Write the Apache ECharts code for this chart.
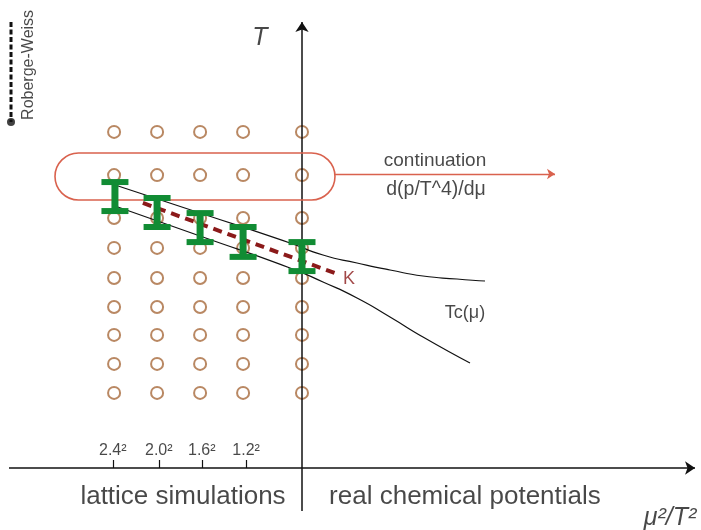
<!DOCTYPE html>
<html><head><meta charset="utf-8">
<script src="https://cdn.jsdelivr.net/npm/echarts@6/dist/echarts.min.js"></script>
<style>html,body{margin:0;padding:0;background:#fff}#c{width:701px;height:530px}</style>
</head><body><div id="c"></div>
<script>
// Schematic coordinates: x = mu^2/T^2 (arbitrary units), y = T (arbitrary units)
const gridColumns = [-4.37, -3.37, -2.37, -1.37, 0];
const gridRows = [2.59, 3.59, 4.59, 5.55, 6.55, 7.59, 8.62, 10.1, 11.59];
const tickValues = [-4.4, -3.33, -2.33, -1.3];
const tickLabels = ['2.4²', '2.0²', '1.6²', '1.2²'];
const tickLabelLevel = 0.6;
// error bars: [x, low, high]
const errorBars = [[-4.35, 8.86, 9.86], [-3.37, 8.31, 9.31], [-2.37, 7.79, 8.79], [-1.37, 7.28, 8.31], [0, 6.79, 7.79]];
const upperCurve = [[-4.628, 9.897], [-2.372, 8.793], [-0.279, 7.759], [0.488, 7.345], [1.279, 7.069], [2.047, 6.828], [2.814, 6.621], [3.605, 6.517], [4.256, 6.448]];
const tcCurve = [[-4.349, 9.034], [-2.372, 8.0], [-0.279, 6.897], [0.488, 6.414], [1.279, 5.862], [2.047, 5.207], [2.814, 4.517], [3.907, 3.621]];
const kLine = [[-3.70, 9.14], [0.88, 6.66]];
const continuationBox = [[-5.744, 10.862, 0.767, 9.241]];
const continuationArrow = [[0.767, 10.138], [5.884, 10.138]];
const robergeWeiss = [[-6.767, 15.38], [-6.767, 11.93]];
const xAxisLine = [[-6.814, 0], [9.14, 0]];
const yAxisLine = [[0, -1.483], [0, 15.38]];
const annotations = [
  {name: 'T', value: [-0.977, 14.83]},
  {name: 'μ²/T²', value: [8.56, -1.72]},
  {name: 'lattice simulations', value: [-2.767, -1.0]},
  {name: 'real chemical potentials', value: [3.79, -1.0]},
  {name: 'continuation', value: [3.093, 10.586]},
  {name: 'd(p/T^4)/dμ', value: [3.116, 9.586]},
  {name: 'Tc(μ)', value: [3.79, 5.345]},
  {name: 'K', value: [1.093, 6.52]},
  {name: 'Roberge-Weiss', value: [-6.35, 13.9]}
];

const FONT = 'Liberation Sans, Arial, sans-serif';
const INK = '#1a1a1a';
const textStyles = {
  'T': {fontSize: 25, fontStyle: 'italic', color: INK},
  'μ²/T²': {fontSize: 25, fontStyle: 'italic', color: INK},
  'lattice simulations': {fontSize: 26, color: INK},
  'real chemical potentials': {fontSize: 26, color: INK},
  'continuation': {fontSize: 19, color: INK},
  'd(p/T^4)/dμ': {fontSize: 19.5, color: INK},
  'Tc(μ)': {fontSize: 18, color: INK},
  'K': {fontSize: 18, color: '#8b1a1a'},
  'Roberge-Weiss': {fontSize: 16, color: INK, rotate: 90}
};

const circles = [];
gridColumns.forEach(x => gridRows.forEach(y => circles.push([x, y])));

const chart = echarts.init(document.getElementById('c'), null, {renderer: 'canvas'});
const option = {
  animation: false,
  backgroundColor: '#fff',
  grid: {left: 0, right: 0, top: 0, bottom: 0, outerBoundsMode: 'none', containLabel: false},
  xAxis: {
    type: 'value', min: -7.023, max: 9.279, position: 'bottom',
    splitLine: {show: false},
    axisLine: {show: false, onZero: true},
    axisTick: {show: true, inside: true, length: 8, customValues: tickValues, lineStyle: {color: '#111', width: 1.2}},
    axisLabel: {show: false}
  },
  yAxis: {
    type: 'value', min: -2.138, max: 16.138,
    show: true, splitLine: {show: false}, axisLine: {show: false}, axisTick: {show: false}, axisLabel: {show: false}
  },
  series: [
    {type: 'scatter', data: circles, symbol: 'circle', symbolSize: 12, z: 2,
     itemStyle: {color: 'rgba(255,255,255,0)', borderColor: '#a86a3c', borderWidth: 2}},
    {type: 'lines', coordinateSystem: 'cartesian2d', z: 3, symbol: ['none', 'arrow'], symbolSize: 10,
     lineStyle: {color: '#111', width: 1.5, opacity: 1},
     data: [{coords: xAxisLine}, {coords: yAxisLine}]},
    {type: 'line', data: upperCurve, smooth: 0.6, showSymbol: false, z: 4,
     lineStyle: {color: '#111', width: 1.2}},
    {type: 'line', data: tcCurve, smooth: 0.6, showSymbol: false, z: 4,
     lineStyle: {color: '#111', width: 1.2}},
    {type: 'line', data: kLine, showSymbol: false, z: 5,
     lineStyle: {color: '#8b1a1a', width: 4, type: [9, 6]}},
    {type: 'line', data: robergeWeiss, showSymbol: false, z: 5,
     lineStyle: {color: '#111', width: 3, type: [5, 2.5]}},
    {type: 'scatter', data: [robergeWeiss[1]], symbol: 'circle', symbolSize: 8, z: 5,
     itemStyle: {color: '#111'}},
    {type: 'custom', data: continuationBox, z: 6, encode: {x: [0, 2], y: [1, 3]},
     renderItem: (params, api) => {
       const p1 = api.coord([api.value(0), api.value(1)]);
       const p2 = api.coord([api.value(2), api.value(3)]);
       const h = p2[1] - p1[1];
       return {type: 'rect', shape: {x: p1[0], y: p1[1], width: p2[0] - p1[0], height: h, r: h / 2},
               style: {fill: 'none', stroke: '#d9624e', lineWidth: 1.6}};
     }},
    {type: 'lines', coordinateSystem: 'cartesian2d', z: 6, symbol: ['none', 'arrow'], symbolSize: 8,
     lineStyle: {color: '#d9624e', width: 1.4, opacity: 1},
     data: [{coords: continuationArrow}]},
    {type: 'custom', data: errorBars, z: 8, encode: {x: 0, y: [1, 2]},
     renderItem: (params, api) => {
       const top = api.coord([api.value(0), api.value(2)]);
       const bot = api.coord([api.value(0), api.value(1)]);
       const color = '#118c34', stem = 7, capW = 27, capH = 6;
       return {type: 'group', children: [
         {type: 'rect', shape: {x: top[0] - stem / 2, y: top[1], width: stem, height: bot[1] - top[1]}, style: {fill: color}},
         {type: 'rect', shape: {x: top[0] - capW / 2, y: top[1] - capH / 2, width: capW, height: capH}, style: {fill: color}},
         {type: 'rect', shape: {x: bot[0] - capW / 2, y: bot[1] - capH / 2, width: capW, height: capH}, style: {fill: color}}
       ]};
     }},
    {type: 'scatter', z: 10, symbolSize: 0, clip: false,
     data: tickValues.map((v, i) => ({name: tickLabels[i], value: [v, tickLabelLevel],
       label: {show: true, position: 'inside', formatter: '{b}', fontFamily: FONT, fontSize: 16, color: INK,
         align: 'center', verticalAlign: 'middle'}}))},
    {type: 'scatter', z: 10, symbolSize: 0, clip: false,
     data: annotations.map(a => ({name: a.name, value: a.value,
       label: Object.assign({show: true, position: 'inside', formatter: '{b}', fontFamily: FONT,
         align: 'center', verticalAlign: 'middle'}, textStyles[a.name])}))}
  ]
};
chart.setOption(option);
</script></body></html>
